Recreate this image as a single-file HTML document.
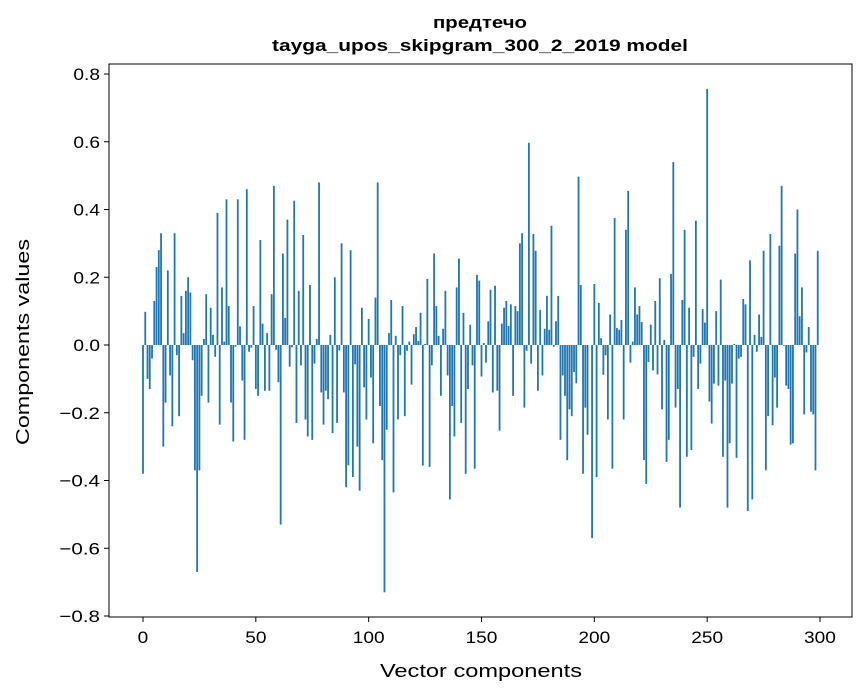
<!DOCTYPE html>
<html><head><meta charset="utf-8"><style>
html,body{margin:0;padding:0;background:#fff;}
svg{display:block;font-family:"Liberation Sans","DejaVu Sans",sans-serif;}
</style></head><body>
<svg id="chart" width="867" height="696" viewBox="0 0 867 696">
<text x="480" y="28" text-anchor="middle" font-weight="bold" font-size="17" textLength="94" lengthAdjust="spacingAndGlyphs">предтечо</text>
<text x="480" y="51" text-anchor="middle" font-weight="bold" font-size="17" textLength="416" lengthAdjust="spacingAndGlyphs">tayga_upos_skipgram_300_2_2019 model</text>
<g id="bars"></g>
<rect x="109" y="64" width="743" height="553" fill="none" stroke="#000" stroke-width="1"/>
<g id="xticks"></g>
<g id="yticks"></g>
<text x="481" y="677" text-anchor="middle" font-size="18" textLength="202" lengthAdjust="spacingAndGlyphs">Vector components</text>
<text transform="translate(29,342) rotate(-90)" text-anchor="middle" font-size="18" textLength="206" lengthAdjust="spacingAndGlyphs">Components values</text>
</svg>
<script>
const values = [
-0.38,0.098,-0.10,-0.13,-0.04,0.13,0.23,0.28,0.33,-0.30,
-0.17,0.22,-0.09,-0.24,0.33,-0.03,-0.21,0.145,0.035,0.16,
0.20,0.155,-0.045,-0.37,-0.67,-0.37,-0.15,0.018,0.15,-0.17,
0.11,0.03,-0.035,0.39,-0.235,0.17,0.01,0.43,0.115,-0.17,
-0.285,-0.005,0.43,0.055,-0.105,-0.28,0.46,-0.02,-0.008,0.115,
-0.13,-0.15,0.31,0.063,-0.135,0.035,-0.135,0.15,0.47,-0.014,
-0.11,-0.53,0.27,0.08,0.37,-0.064,-0.007,0.426,-0.23,0.16,
-0.06,0.325,-0.22,-0.27,0.177,-0.28,-0.055,0.018,0.48,-0.14,
-0.235,-0.135,-0.16,0.03,-0.26,0.20,-0.23,-0.016,0.30,-0.14,
-0.42,-0.355,0.28,-0.39,-0.057,-0.30,-0.43,0.11,-0.125,-0.22,
0.077,-0.096,-0.29,0.14,0.48,-0.18,-0.34,-0.73,-0.25,0.035,
0.133,-0.435,0.027,-0.22,-0.03,0.115,-0.21,-0.017,0.01,-0.117,
0.032,0.053,0.012,0.095,-0.356,0.003,0.195,-0.36,-0.06,0.27,
0.115,0.027,-0.15,0.048,0.16,-0.09,-0.456,-0.18,-0.27,0.17,
0.255,-0.23,0.095,-0.38,-0.13,0.06,-0.06,-0.365,0.207,0.19,
-0.093,0.006,-0.052,0.07,0.163,-0.14,0.175,-0.135,-0.253,0.063,
0.11,0.13,0.056,0.12,-0.15,0.115,0.10,0.30,0.33,-0.185,
-0.017,0.597,-0.055,0.328,0.278,-0.135,0.103,-0.09,0.048,0.145,
0.045,0.352,-0.005,0.07,0.145,-0.28,-0.09,-0.15,-0.34,-0.19,
-0.21,-0.08,-0.113,0.497,0.177,-0.38,-0.185,-0.265,0.0,-0.57,
0.18,-0.39,0.124,0.02,-0.088,-0.03,-0.22,0.09,-0.365,0.375,
0.05,0.045,0.074,-0.22,0.34,0.455,-0.052,0.01,0.17,0.09,
0.115,0.068,-0.34,-0.41,-0.05,0.06,-0.075,0.13,-0.087,0.197,
-0.19,0.015,-0.345,-0.28,0.21,0.54,-0.185,-0.13,-0.48,0.133,
0.34,-0.33,0.11,-0.31,-0.035,0.367,-0.13,-0.055,0.106,0.066,
0.756,-0.167,-0.232,-0.114,0.10,-0.12,0.193,-0.33,-0.105,-0.48,
-0.29,-0.114,0.003,-0.333,-0.04,-0.035,0.136,0.12,-0.49,0.25,
-0.456,0.03,-0.02,0.09,0.024,0.278,-0.37,-0.21,0.328,-0.237,
-0.096,-0.185,0.293,0.47,-0.002,-0.12,-0.13,-0.294,-0.29,0.27,
0.40,0.085,0.17,-0.205,-0.022,0.053,-0.197,-0.205,-0.37,0.278
];
const xTicks = [0,50,100,150,200,250,300];
const yTicks = [-0.8,-0.6,-0.4,-0.2,0.0,0.2,0.4,0.6,0.8];
const yTickLabels = ["\u22120.8","\u22120.6","\u22120.4","\u22120.2","0.0","0.2","0.4","0.6","0.8"];

const NS = "http://www.w3.org/2000/svg";
function xs(i){ return 143 + (820-143)/300 * i; }
function ys(v){ return 345 - 338.75 * v; }
const barW = 0.8 * (820-143)/300;
const FS = 16.7;
function labelWidth(s){
  let w = 0;
  for (const c of s){ w += (c === '.') ? 0.318 : (c === '\u2212' ? 0.838 : 0.636); }
  return w * FS;
}

const gb = document.getElementById('bars');
values.forEach((v,i)=>{
  const r = document.createElementNS(NS,'rect');
  const y0 = ys(Math.max(v,0)), y1 = ys(Math.min(v,0));
  r.setAttribute('x', xs(i) - barW/2);
  r.setAttribute('y', y0);
  r.setAttribute('width', barW);
  r.setAttribute('height', Math.max(y1 - y0, 0));
  r.setAttribute('fill', '#1f77b4');
  
  
  gb.appendChild(r);
});

const gx = document.getElementById('xticks');
xTicks.forEach(t=>{
  const l = document.createElementNS(NS,'line');
  l.setAttribute('x1', xs(t)); l.setAttribute('x2', xs(t));
  l.setAttribute('y1', 617); l.setAttribute('y2', 622);
  l.setAttribute('stroke', '#000');
  
  
  gx.appendChild(l);
  const tx = document.createElementNS(NS,'text');
  tx.setAttribute('x', xs(t)); tx.setAttribute('y', 643);
  tx.setAttribute('text-anchor', 'middle'); tx.setAttribute('font-size', '17');
  tx.setAttribute('textLength', labelWidth(String(t)));
  tx.setAttribute('lengthAdjust', 'spacingAndGlyphs');
  tx.textContent = String(t);
  
  
  gx.appendChild(tx);
});

const gy = document.getElementById('yticks');
yTicks.forEach((t,k)=>{
  const l = document.createElementNS(NS,'line');
  l.setAttribute('x1', 104); l.setAttribute('x2', 109);
  l.setAttribute('y1', ys(t)); l.setAttribute('y2', ys(t));
  l.setAttribute('stroke', '#000');
  
  
  gy.appendChild(l);
  const tx = document.createElementNS(NS,'text');
  tx.setAttribute('x', 100); tx.setAttribute('y', ys(t) + 6);
  tx.setAttribute('text-anchor', 'end'); tx.setAttribute('font-size', '17');
  tx.setAttribute('textLength', labelWidth(yTickLabels[k]));
  tx.setAttribute('lengthAdjust', 'spacingAndGlyphs');
  tx.textContent = yTickLabels[k];
  
  
  gy.appendChild(tx);
});
</script>
</body></html>
